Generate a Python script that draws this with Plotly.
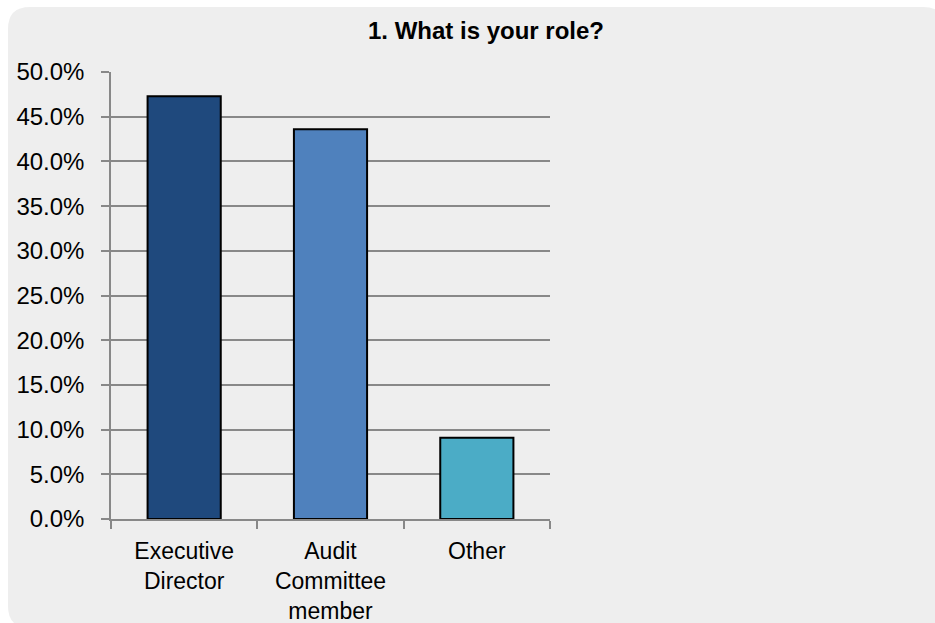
import plotly.graph_objects as go

categories = ["Executive<br>Director", "Audit<br>Committee<br>member", "Other"]
values = [0.473, 0.436, 0.091]
colors = ["#1F497D", "#4F81BD", "#4BACC6"]
yticks = [0, 0.05, 0.10, 0.15, 0.20, 0.25, 0.30, 0.35, 0.40, 0.45, 0.50]

W, H = 935, 623
L, R, T, B = 111, 550, 72, 519

fig = go.Figure(go.Bar(
    x=categories, y=values, width=0.5,
    marker=dict(color=colors, line=dict(color="#000000", width=2)),
))

def px(x):
    return (x - L) / (R - L)

def py(y):
    return (B - y) / (B - T)

x0, x1, y0, y1, r = 8, 945, 7, 628, 22
path = (f"M {px(x0+r)},{py(y0)} L {px(x1-r)},{py(y0)} Q {px(x1)},{py(y0)} {px(x1)},{py(y0+r)} "
        f"L {px(x1)},{py(y1-r)} Q {px(x1)},{py(y1)} {px(x1-r)},{py(y1)} "
        f"L {px(x0+r)},{py(y1)} Q {px(x0)},{py(y1)} {px(x0)},{py(y1-r)} "
        f"L {px(x0)},{py(y0+r)} Q {px(x0)},{py(y0)} {px(x0+r)},{py(y0)} Z")

fig.add_shape(type="path", path=path, xref="paper", yref="paper",
              fillcolor="#EEEEEE", line=dict(width=0), layer="below")

grid = "#888888"
fig.update_layout(
    width=W, height=H,
    margin=dict(l=L, r=W - R, t=T, b=H - B, pad=0),
    paper_bgcolor="#FFFFFF",
    plot_bgcolor="#EEEEEE",
    font=dict(family="Liberation Sans, Arial, sans-serif", size=22, color="#000000"),
    showlegend=False,
    title=dict(text="1. What is your role?", x=486 / W, xanchor="center",
               y=1 - 31 / H, yanchor="middle", yref="container", automargin=False,
               font=dict(family="Liberation Sans, Arial", size=24, color="#000000", weight="bold")),
    bargap=0.5,
)
fig.update_xaxes(
    automargin=False,
    showgrid=False, showline=True, linecolor=grid, linewidth=1.5,
    ticks="outside", tickson="boundaries", ticklen=8, tickcolor=grid, tickwidth=1.5,
    tickfont=dict(size=23), ticklabelstandoff=11,
)
fig.update_yaxes(
    automargin=False,
    range=[0, 0.5], tickvals=yticks, tickformat=".1%",
    showgrid=True, gridcolor=grid, gridwidth=1.5,
    showline=True, linecolor=grid, linewidth=1.5, zeroline=False,
    ticks="outside", ticklen=8, tickcolor=grid, tickwidth=1.5,
    tickfont=dict(size=24), ticklabelstandoff=12,
)

fig.write_html("out.html")
